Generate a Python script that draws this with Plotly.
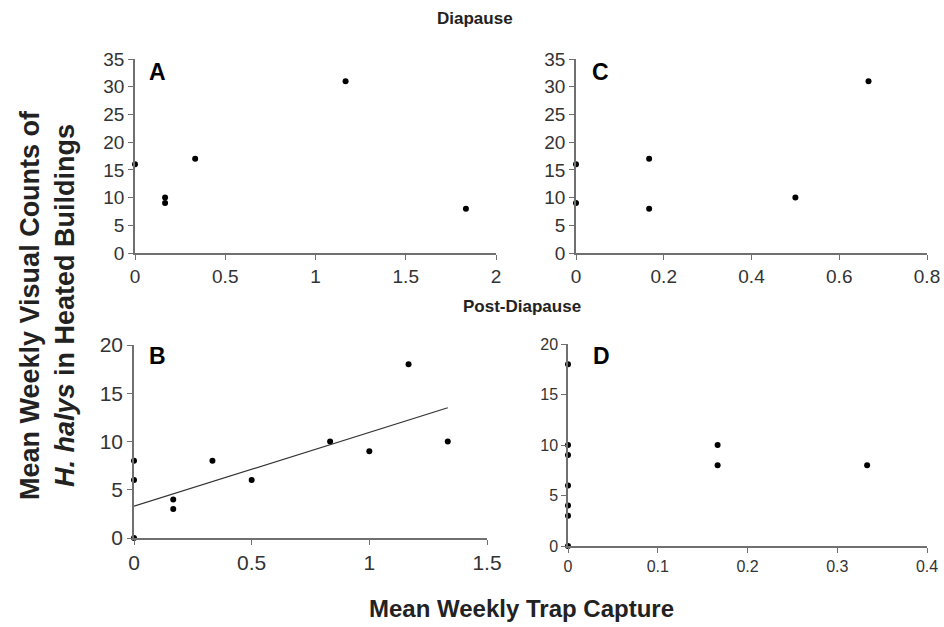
import plotly.graph_objects as go

W, H = 944, 627

# Panel A: diapause, heated buildings vs trap capture
a_x = [0, 0.1667, 0.1667, 0.3333, 1.1667, 1.8333]
a_y = [16, 10, 9, 17, 31, 8]

# Panel C: diapause
c_x = [0, 0, 0.1667, 0.1667, 0.5, 0.6667]
c_y = [16, 9, 17, 8, 10, 31]

# Panel B: post-diapause, with trend line
b_x = [0, 0, 0, 0.1667, 0.1667, 0.3333, 0.5, 0.8333, 1, 1.1667, 1.3333]
b_y = [8, 6, 0, 4, 3, 8, 6, 10, 9, 18, 10]
b_trend_x = [0, 1.3333]
b_trend_y = [3.3, 13.5]

# Panel D: post-diapause
d_x = [0, 0, 0, 0, 0, 0, 0, 0.1667, 0.1667, 0.3333]
d_y = [18, 10, 9, 6, 4, 3, 0, 10, 8, 8]

FONT = "Liberation Sans, Arial"


def dom_x(x0, x1):
    return [x0 / W, x1 / W]


def dom_y(top, bottom):
    return [1 - bottom / H, 1 - top / H]


def text(s, px, py, size, color="#222", angle=0):
    fig.add_annotation(
        text=s, xref="paper", yref="paper", x=px / W, y=1 - py / H,
        xanchor="center", yanchor="middle", showarrow=False, textangle=angle,
        font=dict(family=FONT, size=size, color=color),
    )


fig = go.Figure()

panels = [
    # name, xs, ys, xaxis, yaxis, xdomain, ydomain, xrange, xdtick, yrange, tick font, label pos
    ("A", a_x, a_y, "x", "y", dom_x(135, 496), dom_y(59, 253), [0, 2], 0.5, [0, 35], 19, (157, 72)),
    ("C", c_x, c_y, "x2", "y2", dom_x(576, 927), dom_y(59, 253), [0, 0.8], 0.2, [0, 35], 19, (600, 72)),
    ("B", b_x, b_y, "x3", "y3", dom_x(134, 487), dom_y(345, 538), [0, 1.5], 0.5, [0, 20], 21, (157, 356)),
    ("D", d_x, d_y, "x4", "y4", dom_x(568, 927), dom_y(344, 546), [0, 0.4], 0.1, [0, 20], 16, (601, 356)),
]

layout = {}
for name, xs, ys, xa, ya, xd, yd, xr, xdt, yr, fs, lp in panels:
    fig.add_trace(go.Scatter(
        x=xs, y=ys, xaxis=xa, yaxis=ya, mode="markers",
        marker=dict(color="black", size=6), cliponaxis=False, showlegend=False,
    ))
    axis_style = dict(
        showline=True, linecolor="#707070", linewidth=1.5,
        ticks="outside", ticklen=5, tickcolor="#707070",
        showgrid=False, zeroline=False, automargin=False,
        tickfont=dict(family=FONT, size=fs, color="#333"),
    )
    xkey = "xaxis" if xa == "x" else "xaxis" + xa[1:]
    ykey = "yaxis" if ya == "y" else "yaxis" + ya[1:]
    layout[xkey] = dict(axis_style, domain=xd, range=xr, dtick=xdt, anchor=ya)
    layout[ykey] = dict(axis_style, domain=yd, range=yr, dtick=5, anchor=xa)
    text("<b>%s</b>" % name, lp[0], lp[1], 23, color="black")

fig.add_trace(go.Scatter(
    x=b_trend_x, y=b_trend_y, xaxis="x3", yaxis="y3", mode="lines",
    line=dict(color="#333", width=1.2), showlegend=False,
))

fig.update_layout(**layout)

text("<b>Diapause</b>", 475, 18, 17)
text("<b>Post-Diapause</b>", 522, 307, 17)
text("<b>Mean Weekly Visual Counts of<br><i>H. halys</i> in Heated Buildings</b>",
     47, 305, 27, angle=-90)
text("<b>Mean Weekly Trap Capture</b>", 521, 608, 24)

fig.update_layout(
    width=W, height=H,
    margin=dict(l=0, r=0, t=0, b=0, autoexpand=False),
    paper_bgcolor="white", plot_bgcolor="white",
)

# drop the default 8px body margin so the figure sits at the page corner
fig.write_html("out.html", config={"displayModeBar": False},
               post_script="document.body.style.margin = '0';")
